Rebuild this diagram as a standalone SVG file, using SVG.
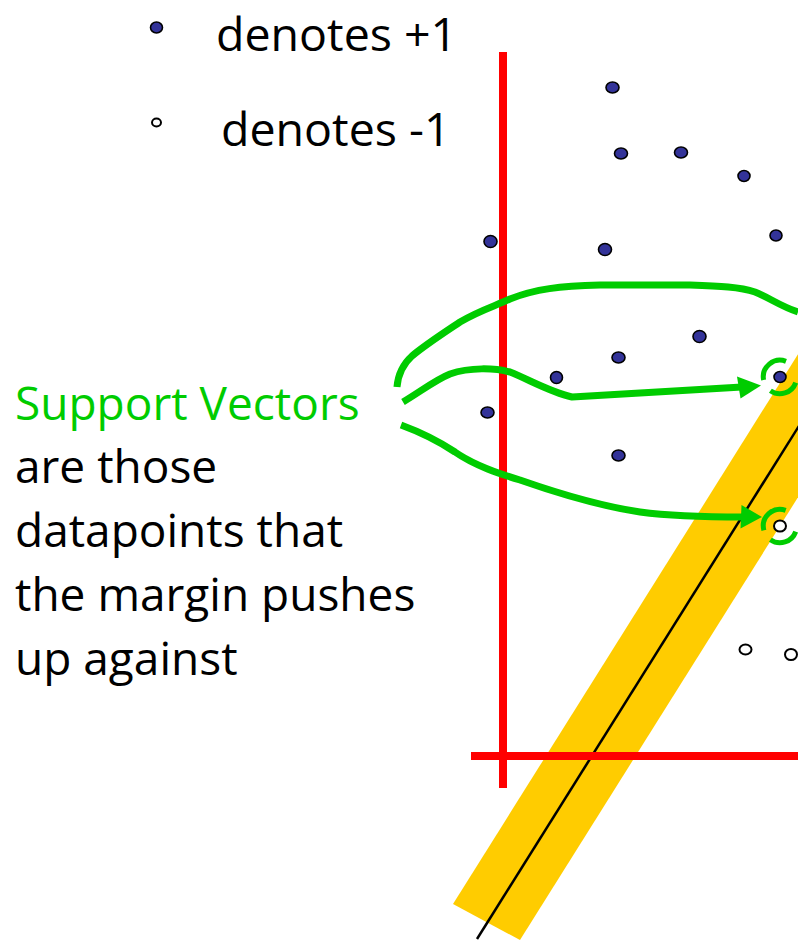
<svg xmlns="http://www.w3.org/2000/svg" width="798" height="940" viewBox="0 0 798 940">
<style>
.t{font-family:"Open Sans","Noto Sans","Liberation Sans",sans-serif;font-size:46px;fill:#000}
.l{font-size:46.5px}
.sv{fill:#00CC00}
.pos{fill:#333399;stroke:#000;stroke-width:1.6}
.neg{fill:#fff;stroke:#000;stroke-width:2}
.g{fill:none;stroke:#00CC00;stroke-width:7;stroke-linejoin:round}
.arc{fill:none;stroke:#00CC00;stroke-width:5}
</style>
<rect width="798" height="940" fill="#fff"/>
<g id="legend">
<ellipse class="pos" cx="156.5" cy="27.5" rx="6" ry="5.5"/>
<text class="t l" x="216" y="50.5">denotes +1</text>
<ellipse class="neg" cx="156.5" cy="122.5" rx="4.5" ry="4"/>
<text class="t l" x="221" y="146">denotes -1</text>
</g>
<g id="margin-band">
<polygon points="453,904 520,940 1173,-100 1083,-100" fill="#FFCC00"/>
<line x1="477" y1="939" x2="878" y2="300" stroke="#000" stroke-width="2.5"/>
</g>
<g id="axes">
<rect x="499" y="52" width="8" height="736" fill="#FF0000"/>
<rect x="471" y="752" width="327" height="8" fill="#FF0000"/>
</g>
<g id="positive-points">
<ellipse class="pos" cx="612.5" cy="87.5" rx="6.5" ry="5.5"/>
<ellipse class="pos" cx="621" cy="153.5" rx="6.5" ry="5.5"/>
<ellipse class="pos" cx="681" cy="152.5" rx="6.5" ry="5.5"/>
<ellipse class="pos" cx="744" cy="176" rx="6" ry="5.5"/>
<ellipse class="pos" cx="776" cy="235.5" rx="6" ry="5.5"/>
<ellipse class="pos" cx="490.5" cy="241.5" rx="6.5" ry="6"/>
<ellipse class="pos" cx="605" cy="249.5" rx="6.5" ry="6"/>
<ellipse class="pos" cx="699.5" cy="336.5" rx="6.5" ry="6"/>
<ellipse class="pos" cx="618.5" cy="357.5" rx="6.5" ry="5.5"/>
<ellipse class="pos" cx="556.5" cy="377.5" rx="6" ry="6"/>
<ellipse class="pos" cx="487.5" cy="412.5" rx="6.5" ry="5.5"/>
<ellipse class="pos" cx="618.5" cy="455.5" rx="6.5" ry="5.5"/>
<ellipse class="pos" cx="780" cy="377" rx="6" ry="5.5"/>
</g>
<g id="negative-points">
<ellipse class="neg" cx="780" cy="526" rx="6" ry="5.5"/>
<ellipse class="neg" cx="745.5" cy="649.5" rx="6" ry="5"/>
<ellipse class="neg" cx="791" cy="654.5" rx="6" ry="5.5"/>
</g>
<g id="support-label">
<text class="t sv" x="15" y="420">Support Vectors</text>
<text class="t" x="15" y="483">are those</text>
<text class="t" x="15" y="547">datapoints that</text>
<text class="t" x="15" y="611">the margin pushes</text>
<text class="t" x="15" y="675">up against</text>
</g>
<g id="connectors">
<path class="g" d="M397,387 C398,375 402,365 412,356 C425,345 442,334 460,322 C478,311 495,306 510,299 C535,289 560,286 600,285 L690,285 C720,286 740,287 755,292 C770,298 780,306 798,312"/>
<path class="g" d="M403,402 C420,392 435,380 450,374 C470,367 495,368 510,372 C530,380 550,392 572,397 L742,387"/>
<polygon points="737,376.5 761,385.5 740.5,398.5" fill="#00CC00"/>
<path class="g" d="M401,425 C420,432 440,442 455,452 C475,466 500,474 520,480 C560,494 600,506 640,512 C670,516 700,517 743,517"/>
<polygon points="741.5,505 762,517 740.5,528.5" fill="#00CC00"/>
<path class="arc" d="M763.6,380 A16.7,16.7 0 0 1 786,361.3"/>
<path class="arc" d="M795.7,382.7 A16.7,16.7 0 0 1 770.4,390.7"/>
<path class="arc" d="M763.9,530.3 A16.7,16.7 0 0 1 785.7,510.3"/>
<path class="arc" d="M795.7,531.7 A16.7,16.7 0 0 1 770.4,539.7"/>
</g>
</svg>
